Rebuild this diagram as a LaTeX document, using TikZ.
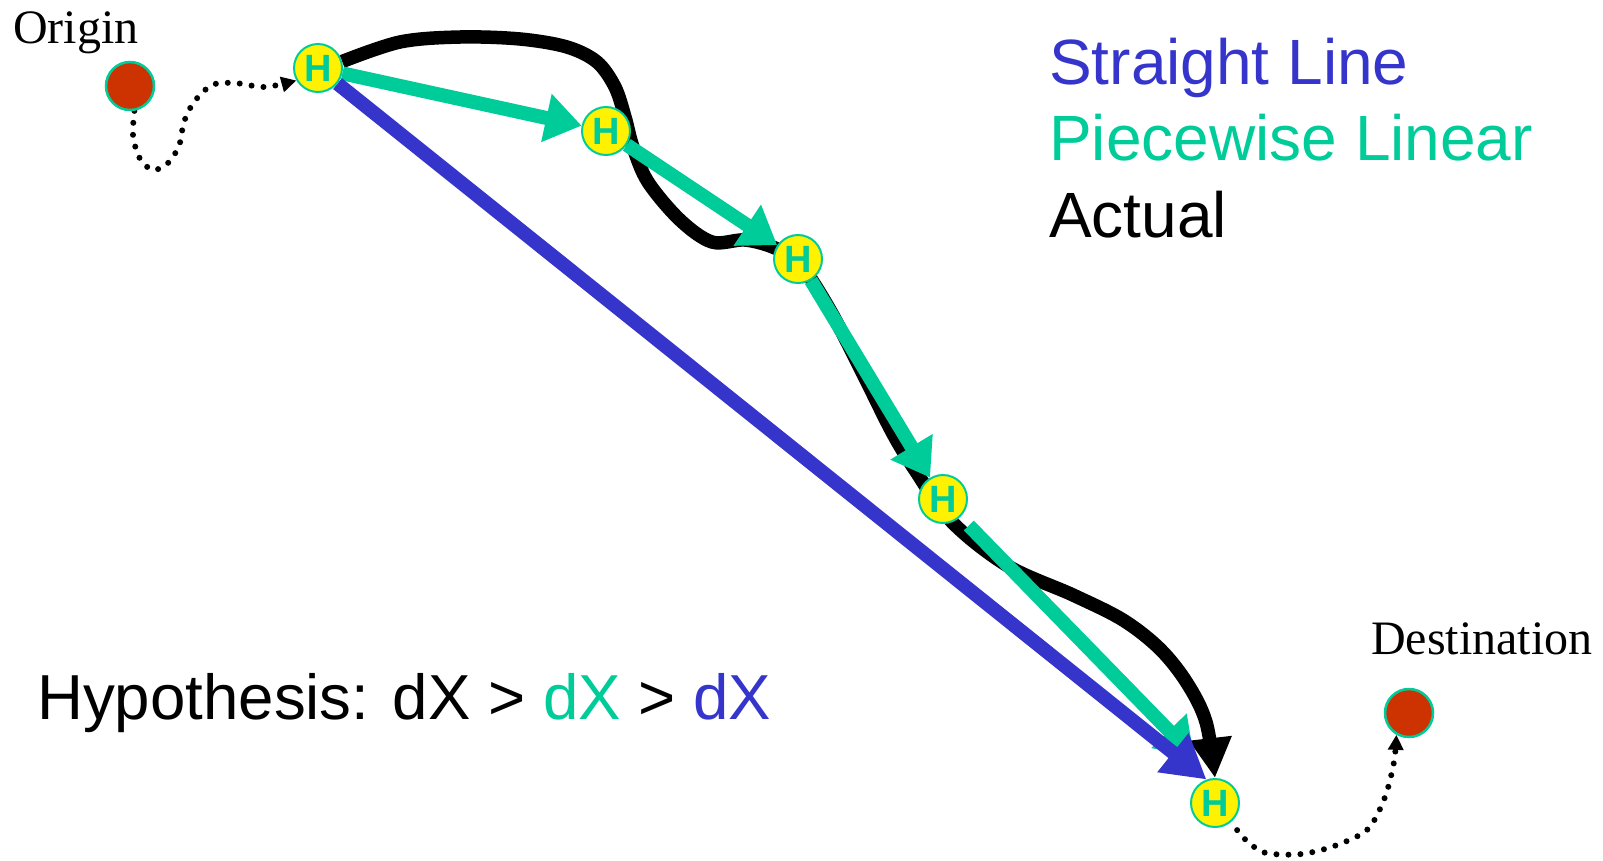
\documentclass[tikz,border=0pt]{standalone}
\usepackage{fontspec}
\setmainfont{Liberation Sans}
\newfontfamily\timesfont{Liberation Serif}
\usetikzlibrary{arrows.meta}
\definecolor{tealc}{HTML}{00CC99}
\definecolor{bluec}{HTML}{3535CC}
\definecolor{redc}{HTML}{CC3300}
\pgfdeclarelayer{background}
\pgfsetlayers{background,main}
\tikzset{
  hnode/.style={circle, fill=yellow, draw=tealc, line width=2pt, minimum size=48pt, inner sep=0pt,
    text=tealc, font=\fontsize{38pt}{38pt}\selectfont\bfseries},
  dotnode/.style={circle, fill=redc, draw=tealc, line width=2.5pt, minimum size=48pt, inner sep=0pt},
  seriflabel/.style={inner sep=0pt, anchor=base west, font=\timesfont\fontsize{48pt}{52pt}\selectfont},
  legendtext/.style={inner sep=0pt, anchor=base west, font=\fontsize{64pt}{76pt}\selectfont},
  hyptext/.style={inner sep=0pt, anchor=base west, font=\fontsize{63.6pt}{76pt}\selectfont},
  piecewise/.style={draw=tealc, line width=14pt, -{Triangle[length=36pt,width=47pt]}, color=tealc},
  straightline/.style={draw=bluec, line width=14pt, -{Triangle[length=43pt,width=47pt]}, color=bluec},
  actual/.style={draw=black, line width=13.5pt, -{Triangle[length=40pt,width=40pt]}},
  dotpath/.style={draw=black, line width=6pt, line cap=round, dash pattern=on 0pt off 12pt,
    -{Triangle[length=15pt,width=15pt]}},
}
\begin{document}
\begin{tikzpicture}[x=1pt,y=-1pt]
\useasboundingbox (0,0) rectangle (1603,860);
% nodes
\node[hnode] (H1) at (318,68) {H};
\node[hnode] (H2) at (606,131) {H};
\node[hnode] (H3) at (798,259) {H};
\node[hnode] (H4) at (943,499) {H};
\node[hnode] (H5) at (1215,803) {H};
\node[dotnode] (O) at (130,86) {};
\node[dotnode] (D) at (1409,713) {};
% labels
\node[seriflabel] (Olab) at (13,43) {Origin};
\node[seriflabel] (Dlab) at (1371,654) {Destination};
\node[legendtext, text=bluec] (L1) at (1049,84) {Straight Line};
\node[legendtext, text=tealc] (L2) at (1049,160) {Piecewise Linear};
\node[legendtext, text=black] (L3) at (1049,237) {Actual};
\node[hyptext] (hyp) at (37,719) {Hypothesis: dX > \textcolor{tealc}{dX} > \textcolor{bluec}{dX}};
% connectors
\begin{pgfonlayer}{background}
\draw[actual] plot[smooth, tension=0.55] coordinates {(H1.15) (400,42) (460,37) (520,39) (567,47)
  (597,62) (615,87) (625,117) (633,147) (648,182) (680,220) (712,242) (745,240) (775,248) (800,264)
  (830,310) (862,372) (892,432) (915,470) (952,522) (1008,566) (1073,595) (1123,620) (1160,649)
  (1187,683) (1206,722) (H5.north)};
\draw[piecewise] (H1) -- (H2);
\draw[piecewise] (H2) -- (H3);
\draw[piecewise] (H3) -- (H4);
\draw[piecewise, shorten <=12pt, shorten >=30pt] (H4) -- (H5.north);
\draw[straightline] (H1) -- (H5.110);
\draw[dotpath] plot[smooth] coordinates {(O.-80) (133,135) (139,157) (152,170) (167,164) (179,146) (184,122)
  (194,102) (212,85) (235,83) (265,87) (H1.210)};
\draw[dotpath, shorten <=10pt] plot[smooth] coordinates {(H5.-50) (1247,841) (1266,853) (1302,854) (1337,845)
  (1368,829) (1385,797) (1394,762) (D.-120)};
\end{pgfonlayer}
\end{tikzpicture}
\end{document}
